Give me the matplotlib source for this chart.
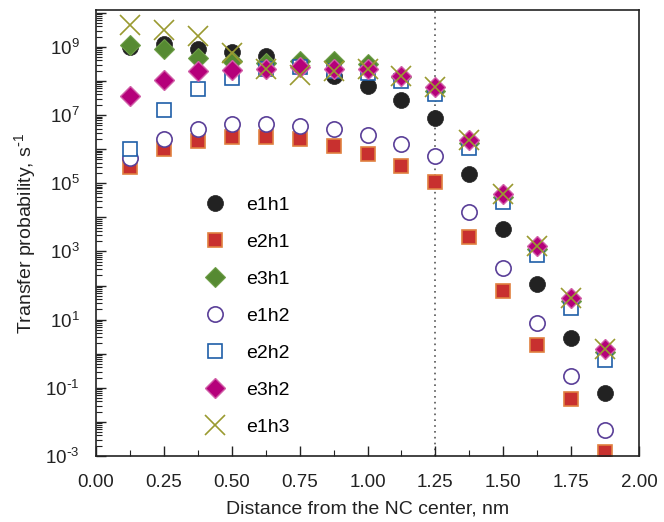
import matplotlib
matplotlib.use("Agg")
import matplotlib.pyplot as plt
import numpy as np
from matplotlib.ticker import LogLocator, FixedLocator, NullFormatter, FuncFormatter

plt.rcParams['font.family'] = ['Liberation Sans', 'DejaVu Sans']
plt.rcParams['mathtext.default'] = 'regular'

x = [0.125, 0.25, 0.375, 0.5, 0.625, 0.75, 0.875, 1.0, 1.125, 1.25, 1.375, 1.5, 1.625, 1.75, 1.875]

e1h1 = [1.0e9, 1.2e9, 8.7e8, 7.0e8, 5.5e8, 2.8e8, 1.4e8, 7.2e7, 2.8e7, 8.3e6, 1.9e5, 4.6e3, 112, 2.8, 0.071]
e2h1 = [3.0e5, 1.0e6, 1.7e6, 2.3e6, 2.3e6, 2.0e6, 1.26e6, 7.2e5, 3.2e5, 1.1e5, 2.7e3, 69, 1.8, 0.048, 0.0013]
e3h1 = [1.1e9, 8.7e8, 4.8e8, 3.9e8, 3.4e8, 3.9e8, 3.9e8, 3.2e8, 1.3e8, 5.0e7, 1.5e6, 4.0e4, 1.2e3, 35, 1.1]
e1h2 = [5.5e5, 2.0e6, 4.0e6, 5.5e6, 5.5e6, 4.8e6, 4.0e6, 2.6e6, 1.45e6, 6.3e5, 1.45e4, 330, 8.1, 0.22, 0.0059]
e2h2 = [1.0e6, 1.4e7, 5.9e7, 1.2e8, 2.3e8, 2.5e8, 2.0e8, 1.7e8, 1.0e8, 4.2e7, 1.1e6, 2.8e4, 790, 22, 0.66]
e3h2 = [3.6e7, 1.07e8, 1.9e8, 2.1e8, 2.2e8, 2.6e8, 2.2e8, 2.2e8, 1.4e8, 6.8e7, 1.9e6, 4.9e4, 1.45e3, 44, 1.4]
e1h3 = [4.4e9, 3.2e9, 2.1e9, 6.6e8, 2.2e8, 1.5e8, 1.9e8, 2.2e8, 1.4e8, 6.8e7, 1.9e6, 4.9e4, 1.45e3, 44, 1.4]

labels = ['e1h1', 'e2h1', 'e3h1', 'e1h2', 'e2h2', 'e3h2', 'e1h3']
xticks = [0.0, 0.25, 0.5, 0.75, 1.0, 1.25, 1.5, 1.75, 2.0]

fig = plt.figure(figsize=(6.64, 5.22), dpi=100)
ax = fig.add_axes([96/664, 1-456/522, (639-96)/664, (456-10)/522])

styles = [
    dict(marker='o', ms=11.5, mfc='#222222', mec='#222222', mew=0.5),
    dict(marker='s', ms=9.5, mfc='#c8302f', mec='#e08040', mew=1.2),
    dict(marker='D', ms=10, mfc='#568a32', mec='#6e9e48', mew=0.8),
    dict(marker='o', ms=11, mfc='white', mec='#5a3f98', mew=1.2),
    dict(marker='s', ms=10, mfc='white', mec='#1f5fa8', mew=1.2),
    dict(marker='D', ms=10, mfc='#b5007a', mec='#d060a8', mew=1.0),
    dict(marker='x', ms=14, mfc='none', mec='#9a9a30', mew=1.2),
]
series = [e1h1, e2h1, e3h1, e1h2, e2h2, e3h2, e1h3]
for ys, lab, st in zip(series, labels, styles):
    ax.plot(x, ys, linestyle='none', label=lab, **st)

ax.axvline(1.25, color='#555555', linestyle=(0, (1, 2.5)), linewidth=1.2, zorder=0)

ax.set_yscale('log')
ax.set_xlim(0, 2.0)
ax.set_ylim(1e-3, 1.2e10)
ax.set_xticks(xticks)
ax.set_xticklabels(['%.2f' % v for v in xticks])
ax.xaxis.set_minor_locator(FixedLocator([0.125 + 0.25 * i for i in range(8)]))

ax.yaxis.set_major_locator(FixedLocator([10.0 ** k for k in range(-3, 11)]))
def fmt(v, pos):
    k = int(round(np.log10(v)))
    if k % 2 != 0:
        if k < 0:
            return r'$10^{\text{-}%d}$' % (-k)
        return r'$10^{%d}$' % k
    return ''
ax.yaxis.set_major_formatter(FuncFormatter(fmt))
ax.yaxis.set_minor_locator(LogLocator(base=10, subs=np.arange(2, 10), numticks=100))
ax.yaxis.set_minor_formatter(NullFormatter())

ax.tick_params(which='both', direction='in', top=False, right=False, labelsize=13.5,
               color='#222222', labelcolor='#222222')
ax.tick_params(which='major', length=7, width=1)
ax.tick_params(which='minor', length=4, width=0.8)
ax.tick_params(axis='x', which='major', pad=13)
ax.tick_params(axis='y', which='major', pad=12)
for s in ax.spines.values():
    s.set_linewidth(1.2)
    s.set_color('#222222')

ax.set_xlabel('Distance from the NC center, nm', fontsize=14, color='#222222', labelpad=7)
ax.set_ylabel('Transfer probability, s$^{\\text{-}1}$', fontsize=14, color='#222222', labelpad=5)

leg = ax.legend(loc='upper left', bbox_to_anchor=(0.18, 0.605), frameon=False, fontsize=14,
                labelspacing=1.0, handletextpad=1.0, handlelength=1.2, borderpad=0)

fig.savefig('out.png', dpi=100)
